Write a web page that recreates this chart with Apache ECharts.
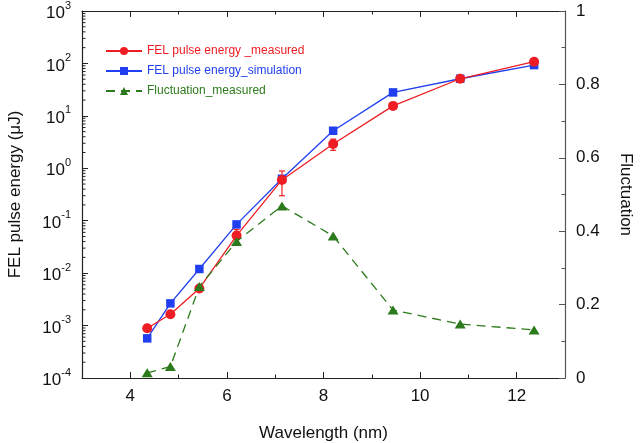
<!DOCTYPE html>
<html>
<head>
<meta charset="utf-8">
<script src="https://cdn.jsdelivr.net/npm/echarts@6/dist/echarts.min.js"></script>
<style>
  html, body { margin: 0; padding: 0; background: #fff; }
  #chart { width: 640px; height: 443px; }
</style>
</head>
<body>
<div id="chart"></div>
<script>
// values
const wavelength = [4.35, 4.83, 5.43, 6.2, 7.14, 8.2, 9.44, 10.83, 12.36]
const energyMeasured = [8.9e-4, 1.64e-3, 5.1e-3, 0.052, 0.6, 2.9, 15.5, 51, 108]
const energySimulation = [5.7e-4, 2.65e-3, 0.012, 0.085, 0.63, 5.2, 28, 51, 93]
const fluctuation = [0.014, 0.031, 0.249, 0.372, 0.469, 0.387, 0.185, 0.147, 0.131]
const errLow = [null, null, 4.5e-3, 0.035, 0.3, 2.2, 13.5, null, null]
const errHigh = [null, null, 5.8e-3, 0.068, 0.89, 3.6, 17.5, null, null]

const xMajor = [4, 6, 8, 10, 12]
const xMinor = [5, 7, 9, 11]
const logDecades = [-4, -3, -2, -1, 0, 1, 2]

const FONT = 'Liberation Sans, Arial, sans-serif'
const RED = '#ee1d23'
const BLUE = '#1f3ff0'
const GREEN = '#2b7a1b'
const AXIS = '#222'

// minor ticks of the log axis (2..9 in every decade)
const logMinor = []
logDecades.forEach(d => {
  for (let m = 2; m <= 9; m++) logMinor.push([3, m * Math.pow(10, d)])
})

const errData = []
wavelength.forEach((w, i) => {
  if (errLow[i] != null) errData.push([w, errLow[i], errHigh[i]])
})

const myChart = echarts.init(document.getElementById('chart'))

const baseX = {
  type: 'value',
  min: 3,
  max: 13,
  splitLine: { show: false },
  axisLine: { show: true, onZero: false, lineStyle: { color: AXIS, width: 1.2 } }
}

const option = {
  animation: false,
  textStyle: { fontFamily: FONT },
  grid: { left: 82, right: 75, top: 11, bottom: 65, containLabel: false, outerBoundsMode: 'none' },
  legend: {
    orient: 'vertical',
    left: 100,
    top: 40,
    itemWidth: 36,
    itemHeight: 10,
    itemGap: 8,
    textStyle: { fontFamily: FONT, fontSize: 12 },
    data: [
      { name: 'FEL pulse energy _measured', textStyle: { color: RED } },
      { name: 'FEL pulse energy_simulation', textStyle: { color: BLUE } },
      { name: 'Fluctuation_measured', textStyle: { color: GREEN } }
    ]
  },
  xAxis: [
    Object.assign({}, baseX, {
      position: 'bottom',
      name: 'Wavelength (nm)',
      nameLocation: 'middle',
      nameGap: 47,
      nameTextStyle: { fontSize: 17, color: '#111', fontFamily: FONT },
      axisTick: { inside: true, length: 6, customValues: xMajor, lineStyle: { color: AXIS } },
      axisLabel: { customValues: xMajor, fontSize: 17, color: '#111', margin: 10 }
    }),
    Object.assign({}, baseX, {
      position: 'bottom',
      axisLine: { show: false },
      axisTick: { inside: true, length: 3.5, customValues: xMinor, lineStyle: { color: AXIS } },
      axisLabel: { show: false }
    }),
    Object.assign({}, baseX, {
      position: 'top',
      axisTick: { inside: true, length: 6, customValues: xMajor, lineStyle: { color: AXIS } },
      axisLabel: { show: false }
    }),
    Object.assign({}, baseX, {
      position: 'top',
      axisLine: { show: false },
      axisTick: { inside: true, length: 3.5, customValues: xMinor, lineStyle: { color: AXIS } },
      axisLabel: { show: false }
    })
  ],
  yAxis: [
    {
      type: 'log',
      logBase: 10,
      min: 1e-4,
      max: 1e3,
      position: 'left',
      name: 'FEL pulse energy (\u03bcJ)',
      nameLocation: 'middle',
      nameGap: 58,
      nameTextStyle: { fontSize: 17, color: '#111', fontFamily: FONT },
      splitLine: { show: false },
      axisLine: { show: true, lineStyle: { color: AXIS, width: 1.2 } },
      axisTick: { inside: true, length: 6, lineStyle: { color: AXIS } },
      axisLabel: {
        margin: 11,
        formatter: v => '{b|10}{s|' + Math.round(Math.log10(v)) + '}',
        rich: {
          b: { fontSize: 17, color: '#111', fontFamily: FONT, lineHeight: 22, verticalAlign: 'bottom' },
          s: { fontSize: 11, color: '#111', fontFamily: FONT, lineHeight: 22, verticalAlign: 'top', padding: [0, 0, 8, 0] }
        }
      }
    },
    {
      type: 'value',
      min: 0,
      max: 1,
      interval: 0.2,
      position: 'right',
      name: 'Fluctuation',
      nameLocation: 'middle',
      nameGap: 52,
      nameRotate: -90,
      nameTextStyle: { fontSize: 17, color: '#111', fontFamily: FONT },
      splitLine: { show: false },
      axisLine: { show: true, lineStyle: { color: '#555', width: 1.2 } },
      axisTick: { inside: true, length: 6, lineStyle: { color: '#555' } },
      minorTick: { show: true, splitNumber: 2, length: 3.5, lineStyle: { color: '#555' } },
      axisLabel: { fontSize: 17, color: '#111', margin: 11 }
    }
  ],
  series: [
    {
      name: 'FEL pulse energy _measured',
      type: 'line',
      yAxisIndex: 0,
      data: wavelength.map((w, i) => [w, energyMeasured[i]]),
      symbol: 'circle',
      symbolSize: 10,
      itemStyle: { color: RED },
      lineStyle: { color: RED, width: 1.3 },
      z: 4
    },
    {
      name: 'FEL pulse energy_simulation',
      type: 'line',
      yAxisIndex: 0,
      data: wavelength.map((w, i) => [w, energySimulation[i]]),
      symbol: 'rect',
      symbolSize: 8.5,
      itemStyle: { color: BLUE },
      lineStyle: { color: BLUE, width: 1.3 },
      z: 3
    },
    {
      name: 'Fluctuation_measured',
      type: 'line',
      yAxisIndex: 1,
      data: wavelength.map((w, i) => [w, fluctuation[i]]),
      symbol: 'triangle',
      symbolSize: [11, 9],
      itemStyle: { color: GREEN },
      lineStyle: { color: GREEN, width: 1.3, type: [9, 6] },
      z: 5
    },
    {
      name: 'errors',
      type: 'custom',
      yAxisIndex: 0,
      data: errData,
      z: 4,
      silent: true,
      renderItem: (params, api) => {
        const x = api.value(0)
        const lo = api.coord([x, api.value(1)])
        const hi = api.coord([x, api.value(2)])
        const cap = 3
        const style = { stroke: RED, lineWidth: 1.2 }
        return {
          type: 'group',
          children: [
            { type: 'line', shape: { x1: lo[0], y1: lo[1], x2: hi[0], y2: hi[1] }, style },
            { type: 'line', shape: { x1: lo[0] - cap, y1: lo[1], x2: lo[0] + cap, y2: lo[1] }, style },
            { type: 'line', shape: { x1: hi[0] - cap, y1: hi[1], x2: hi[0] + cap, y2: hi[1] }, style }
          ]
        }
      }
    },
    {
      name: 'logMinorTicks',
      type: 'custom',
      yAxisIndex: 0,
      data: logMinor,
      silent: true,
      clip: false,
      renderItem: (params, api) => {
        const p = api.coord([api.value(0), api.value(1)])
        return {
          type: 'line',
          shape: { x1: p[0], y1: p[1], x2: p[0] + 3.5, y2: p[1] },
          style: { stroke: AXIS, lineWidth: 1 }
        }
      }
    }
  ]
}

option && myChart.setOption(option)
</script>
</body>
</html>
